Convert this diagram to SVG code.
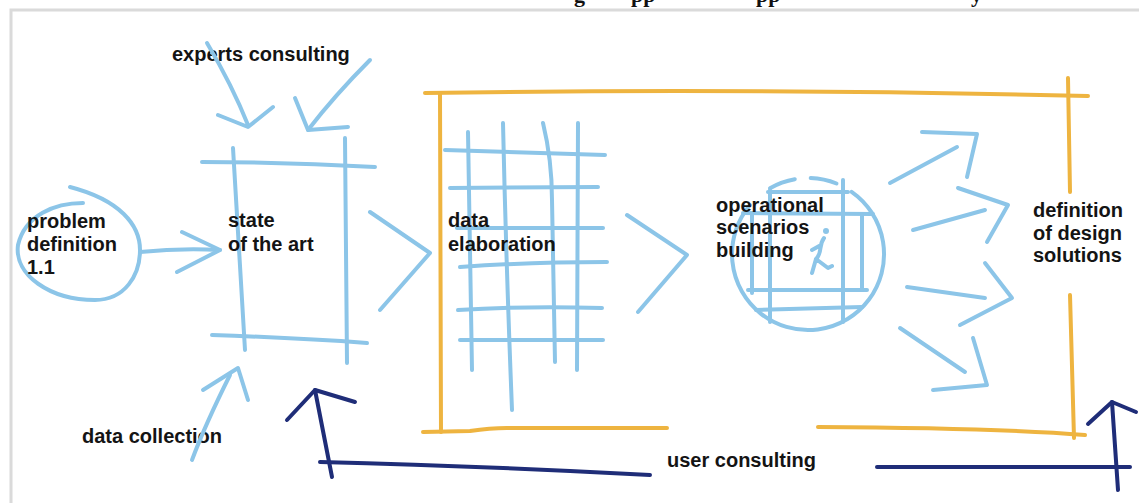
<svg xmlns="http://www.w3.org/2000/svg" width="1139" height="503" viewBox="0 0 1139 503">
  <defs>
    <style>
      .lbl { font-family: "Liberation Sans", Arial, sans-serif; font-weight: bold; font-size: 20px; fill: #141414; }
      .ttl { font-family: "Liberation Serif", "Times New Roman", serif; font-weight: bold; font-size: 22px; fill: #111; }
      .blue { fill: none; stroke: #8cc5e8; stroke-width: 4; stroke-linecap: round; stroke-linejoin: round; }
      .gold { fill: none; stroke: #eeb440; stroke-width: 4; stroke-linecap: round; stroke-linejoin: round; }
      .navy { fill: none; stroke: #1f2d78; stroke-width: 4; stroke-linecap: round; stroke-linejoin: round; }
      .frame { fill: none; stroke: #dadada; stroke-width: 3; }
    </style>
  </defs>

  <rect width="1139" height="503" fill="#ffffff"/>

  <!-- clipped heading, only descenders fall inside the page -->
  <g id="heading">
    <text class="ttl" y="1.5"><tspan x="574">g</tspan><tspan x="631">pp</tspan><tspan x="756">pp</tspan><tspan x="971">y</tspan></text>
  </g>

  <!-- page frame -->
  <rect class="frame" x="11" y="10" width="1200" height="600"/>

  <!-- working area boundary -->
  <g id="workspace-frame">
    <path class="gold" d="M425,93 Q750,88 1088,96"/>
    <path class="gold" d="M440,93 L441,432"/>
    <path class="gold" d="M423,432 L470,431 Q490,428 507,428 L667,428"/>
    <path class="gold" d="M818,427 Q1000,428 1085,435"/>
    <path class="gold" d="M1068,78 L1070,192"/>
    <path class="gold" d="M1070,295 L1074,438"/>
  </g>

  <g id="problem-definition">
    <path class="blue" d="M83,203 C55,203 25,215 18,245 C14,275 50,300 95,300 C125,300 140,275 140,250 C140,225 120,200 70,187"/>
    <text class="lbl" x="27" y="228">problem</text>
    <text class="lbl" x="27" y="251">definition</text>
    <text class="lbl" x="27" y="274">1.1</text>
  </g>

  <g id="state-of-the-art">
    <path class="blue" d="M202,162 Q290,162 375,167"/>
    <path class="blue" d="M233,148 L245,350"/>
    <path class="blue" d="M345,138 L347,363"/>
    <path class="blue" d="M212,335 Q300,338 367,343"/>
    <text class="lbl" x="228" y="227">state</text>
    <text class="lbl" x="228" y="251">of the art</text>
  </g>

  <g id="experts-consulting">
    <text class="lbl" x="172" y="61">experts consulting</text>
  </g>

  <g id="data-collection">
    <text class="lbl" x="82" y="443">data collection</text>
  </g>

  <g id="data-elaboration">
    <path class="blue" d="M445,150 L605,155"/>
    <path class="blue" d="M450,188 L598,187"/>
    <path class="blue" d="M457,228 L603,228"/>
    <path class="blue" d="M460,267 Q530,262 607,262"/>
    <path class="blue" d="M458,310 Q520,306 602,308"/>
    <path class="blue" d="M460,340 L603,340"/>
    <path class="blue" d="M468,132 L472,370"/>
    <path class="blue" d="M503,123 Q506,260 512,410"/>
    <path class="blue" d="M543,123 Q552,160 552,200 L555,362"/>
    <path class="blue" d="M578,123 L577,370"/>
    <text class="lbl" x="448" y="227">data</text>
    <text class="lbl" x="448" y="251">elaboration</text>
  </g>

  <g id="operational-scenarios">
    <!-- globe outline with a broken top edge -->
    <path class="blue" d="M750,205 A76,76 0 1 0 851.6,191.8"/>
    <path class="blue" d="M770,188.2 A76,76 0 0 1 794.8,179.2"/>
    <path class="blue" d="M810.7,178 A76,76 0 0 1 836.5,183.5"/>
    <!-- inner grid -->
    <path class="blue" d="M768,192 L848,192"/>
    <path class="blue" d="M743,213 L873,214"/>
    <path class="blue" d="M748,290 L867,290"/>
    <path class="blue" d="M756,310 L862,307"/>
    <path class="blue" d="M752,213 L752,293"/>
    <path class="blue" d="M770,190 L770,322"/>
    <path class="blue" d="M843,180 L843,322"/>
    <path class="blue" d="M862,215 L862,290"/>
    <!-- small figure -->
    <circle cx="826" cy="231" r="3" fill="#8cc5e8"/>
    <path class="blue" stroke-width="3" d="M824,238 C818,246 823,252 816,259 M816,259 L812,273 M816,259 L828,268 L832,266 M821,245 L812,250"/>
    <text class="lbl" x="716" y="212">operational</text>
    <text class="lbl" x="716" y="234">scenarios</text>
    <text class="lbl" x="716" y="257">building</text>
  </g>

  <g id="design-solutions">
    <text class="lbl" x="1033" y="217">definition</text>
    <text class="lbl" x="1033" y="240">of design</text>
    <text class="lbl" x="1033" y="262">solutions</text>
  </g>

  <g id="user-consulting">
    <text class="lbl" x="667" y="467">user consulting</text>
  </g>

  <g id="connectors">
    <!-- problem definition to state of the art -->
    <path class="blue" d="M140,252 Q180,248 220,250"/>
    <path class="blue" d="M182,232 L220,250 L177,272"/>
    <!-- experts consulting inputs -->
    <path class="blue" d="M207,43 Q232,85 248,125"/>
    <path class="blue" d="M218,115 L248,127 L273,107"/>
    <path class="blue" d="M370,60 Q335,95 308,130"/>
    <path class="blue" d="M295,98 L308,130 L348,127"/>
    <!-- data collection input -->
    <path class="blue" d="M192,460 Q205,425 230,375"/>
    <path class="blue" d="M203,390 L238,368 L248,400"/>
    <!-- stage chevrons -->
    <path class="blue" d="M370,212 L430,253 L380,310"/>
    <path class="blue" d="M627,215 L687,255 L638,312"/>
    <!-- scenarios to design solutions -->
    <path class="blue" d="M890,183 L957,147"/>
    <path class="blue" d="M922,132 L977,134 L967,177"/>
    <path class="blue" d="M913,230 L985,210"/>
    <path class="blue" d="M958,188 L1008,205 L987,242"/>
    <path class="blue" d="M907,287 L985,298"/>
    <path class="blue" d="M985,263 L1012,298 L960,325"/>
    <path class="blue" d="M900,328 L965,372"/>
    <path class="blue" d="M973,338 L987,385 L933,390"/>
    <!-- user consulting feedback -->
    <path class="navy" d="M320,462 Q480,466 650,475"/>
    <path class="navy" d="M332,477 L315,390"/>
    <path class="navy" d="M287,420 L315,390 L355,402"/>
    <path class="navy" d="M877,467 L1130,467"/>
    <path class="navy" d="M1118,490 L1112,402"/>
    <path class="navy" d="M1088,424 L1112,402 L1136,412"/>
  </g>
</svg>
